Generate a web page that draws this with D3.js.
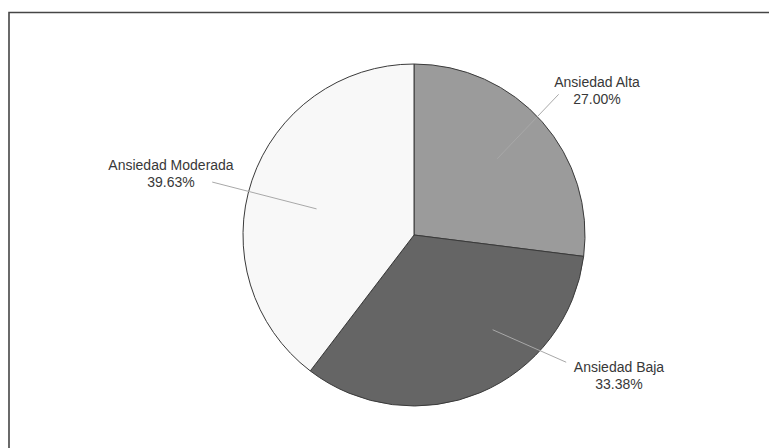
<!DOCTYPE html>
<html>
<head>
<meta charset="utf-8">
<script src="https://cdn.jsdelivr.net/npm/d3@7"></script>
<style>
  body { margin: 0; background: #fff; overflow: hidden; }
  svg { display: block; }
  svg text { font-family: "Liberation Sans", Arial, sans-serif; font-size: 14px; fill: #383838; }
</style>
</head>
<body>
<svg class="chart"></svg>
<script>
var width = 769,
	height = 448;

// data
var categories = ["Ansiedad Alta", "Ansiedad Baja", "Ansiedad Moderada"];
var values = [27.00, 33.38, 39.63];
var colors = ["#9b9b9b", "#656565", "#f8f8f8"];

// label placement: leader from (angle, fraction of radius) to (angle, fraction), text offset from centre
var leaders = [
	{ a0: 47.5, r0: 0.66, a1: 45.8, r1: 1.18, tx: 183, ty: -148 },
	{ a0: 140.3, r0: 0.72, a1: 129.9, r1: 1.16, tx: 205, ty: 137 },
	{ a0: 285, r0: 0.59, a1: 284.7, r1: 1.22, tx: -243, ty: -65 }
];

var cx = 414, cy = 235, radius = 171;

var fmt = d3.format(".2f");

var chart = d3.select(".chart")
	.attr("width", width)
	.attr("height", height);

// frame: only the top and left edges are inside the picture
chart.append("path")
	.attr("d", "M9," + height + "V12.5H" + width)
	.attr("fill", "none")
	.attr("stroke", "#454545")
	.attr("stroke-width", 1.6);

var pie = d3.pie()
	.sort(null)
	.value(function(d) { return d; });

var arc = d3.arc()
	.innerRadius(0)
	.outerRadius(radius);

var g = chart.append("g")
	.attr("transform", "translate(" + cx + "," + cy + ")");

var slices = pie(values);

g.selectAll(".slice")
	.data(slices)
  .enter().append("path")
	.attr("class", "slice")
	.attr("d", arc)
	.attr("fill", function(d, i) { return colors[i]; })
	.attr("stroke", "#3a3a3a")
	.attr("stroke-width", 1);

function polar(angle, frac) {
	var t = angle * Math.PI / 180;
	return [Math.sin(t) * radius * frac, -Math.cos(t) * radius * frac];
}

g.selectAll(".leader")
	.data(leaders)
  .enter().append("line")
	.attr("class", "leader")
	.attr("x1", function(d) { return polar(d.a0, d.r0)[0]; })
	.attr("y1", function(d) { return polar(d.a0, d.r0)[1]; })
	.attr("x2", function(d) { return polar(d.a1, d.r1)[0]; })
	.attr("y2", function(d) { return polar(d.a1, d.r1)[1]; })
	.attr("stroke", "#a8a8a8")
	.attr("stroke-width", 1);

var label = g.selectAll(".label")
	.data(leaders)
  .enter().append("text")
	.attr("class", "label")
	.attr("text-anchor", "middle")
	.attr("transform", function(d) { return "translate(" + d.tx + "," + d.ty + ")"; });

label.append("tspan")
	.attr("x", 0)
	.attr("y", 0)
	.text(function(d, i) { return categories[i]; });

label.append("tspan")
	.attr("x", 0)
	.attr("y", 17)
	.text(function(d, i) { return fmt(values[i]) + "%"; });
</script>
</body>
</html>
